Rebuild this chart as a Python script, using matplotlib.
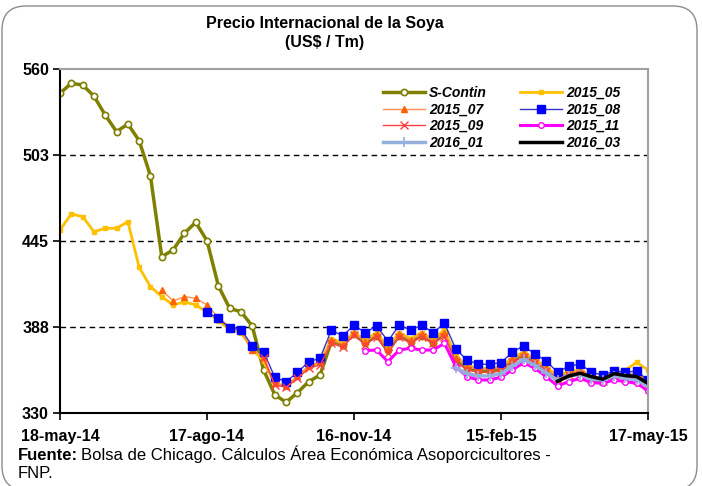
import matplotlib
matplotlib.use('Agg')
import matplotlib.pyplot as plt
from matplotlib.patches import FancyBboxPatch
from matplotlib.transforms import IdentityTransform
import numpy as np
import pandas as pd

# semanas desde 18-may-14 (53 cierres semanales)
weeks = pd.date_range('2014-05-18', periods=53, freq='7D')
N = None

s_contin = [544.0, 550.6, 549.5, 542.1, 529.4, 518.3, 523.4, 512.3, 488.7, 434.7,
            439.2, 450.4, 457.7, 445.4, 415.3, 400.2, 397.9, 388.4, 359.0, 342.3,
            337.4, 343.8, 351.2, 355.6, 378.0, 376.0, 383.0, 377.0, 382.0, 372.0,
            382.0, 378.0, 382.0, 377.0, 384.0, 366.0, 360.0, 358.0, 358.0, 359.0,
            365.0, 369.0, 364.0, 359.0, 353.0, 356.0, 357.0, 353.0, 351.0, 354.0,
            355.0, 355.0, 351.0]
c2015_05 = [452.6, 463.3, 461.5, 451.4, 453.7, 453.7, 458.1, 427.6, 414.7, 408.0,
            402.4, 404.6, 402.4, 397.7, 392.0, 386.0, 384.0, 373.0, 365.0, 350.0,
            348.0, 354.0, 361.0, 363.5, 380.0, 377.0, 384.0, 379.0, 384.0, 374.0,
            384.0, 380.0, 384.0, 379.0, 386.0, 368.0, 362.0, 360.0, 360.0, 361.0,
            367.0, 371.0, 366.0, 361.0, 355.0, 358.0, 359.0, 355.0, 353.0, 357.0,
            359.0, 364.0, 359.0]
c2015_07 = [N] * 9 + [
            412.4, 405.1, 408.0, 406.9, 402.4, 394.0, 388.0, 385.0, 372.0, 368.0,
            350.0, 348.5, 355.0, 362.0, 364.0, 379.0, 376.0, 384.0, 378.0, 383.0,
            373.0, 383.0, 379.0, 383.0, 378.0, 384.0, 367.0, 361.0, 359.5, 359.5,
            360.5, 366.0, 370.0, 365.0, 360.0, 354.0, 357.0, 358.0, 354.0, 352.0,
            355.0, 356.0, 357.0, 352.0]
c2015_08 = [N] * 13 + [
            397.5, 393.5, 387.0, 386.0, 375.2, 371.2, 354.1, 351.1, 357.4, 364.5,
            366.8, 385.7, 381.7, 388.9, 383.9, 388.4, 378.3, 388.9, 385.7, 388.9,
            383.9, 390.2, 373.0, 365.6, 362.8, 362.8, 363.8, 370.8, 375.2, 369.5,
            365.0, 357.4, 361.6, 362.8, 357.6, 355.4, 358.3, 357.3, 358.4, 352.0]
c2015_09 = [N] * 18 + [
            366.8, 348.9, 347.4, 353.4, 360.1, 362.3, 376.8, 374.1, 382.4, 375.7,
            381.2, 370.1, 381.2, 376.8, 381.2, 376.8, 381.2, 364.5, 359.0, 357.5,
            357.5, 358.5, 364.0, 367.8, 363.5, 358.5, 352.5, 355.5, 356.5, 353.0,
            351.5, 354.0, 353.0, 352.5, 348.5]
c2015_11 = [N] * 27 + [
            371.9, 372.3, 364.5, 372.3, 373.5, 372.3, 372.3, 376.8, 361.2, 354.5,
            352.3, 352.3, 354.1, 359.0, 363.8, 360.1, 354.5, 348.3, 351.2, 353.4,
            350.5, 350.1, 352.3, 351.2, 350.1, 345.1]
c2016_01 = [N] * 35 + [
            360.5, 356.5, 355.0, 355.0, 356.5, 361.5, 366.0, 362.0, 357.0, 352.0,
            355.0, 355.8, 352.8, 352.3, 355.0, 353.4, 352.3, 348.3]
c2016_03 = [N] * 44 + [
            351.4, 355.0, 356.8, 354.5, 352.8, 356.5, 355.2, 354.5, 350.0]

y_ticks = np.linspace(330, 560, 5)
y_labels = ['330', '388', '445', '503', '560']
x_tick_dates = pd.to_datetime(['2014-05-18', '2014-08-17', '2014-11-16',
                               '2015-02-15', '2015-05-17'])
x_labels = ['18-may-14', '17-ago-14', '16-nov-14', '15-feb-15', '17-may-15']

plt.rcParams['font.family'] = ['Liberation Sans', 'DejaVu Sans']


def arr(v):
    return np.array([np.nan if x is None else x for x in v], dtype=float)


fig = plt.figure(figsize=(7.02, 4.86), dpi=100)
ax = fig.add_axes([60 / 702, 1 - 413.3 / 486, 588 / 702, 344 / 486])

l_sc, = ax.plot(weeks, arr(s_contin), color='#808000', lw=2.5, marker='o',
                ms=4.5, mfc='white', mec='#808000', mew=1.2, label='S-Contin')
l_05, = ax.plot(weeks, arr(c2015_05), color='#FFC000', lw=2, marker='s',
                ms=3.5, label='2015_05')
l_07, = ax.plot(weeks, arr(c2015_07), color='#FF9050', lw=1, marker='^',
                ms=4, mfc='#FF6000', mec='#FF6000', label='2015_07')
l_08, = ax.plot(weeks, arr(c2015_08), color='#3333CC', lw=1, marker='s',
                ms=5.5, mfc='#0000FF', mec='#0000FF', label='2015_08')
l_09, = ax.plot(weeks, arr(c2015_09), color='#FF4040', lw=1, marker='x',
                ms=6, mew=1, label='2015_09')
l_11, = ax.plot(weeks, arr(c2015_11), color='#FF00FF', lw=2.2, marker='o',
                ms=4, mfc='white', mec='#FF00FF', label='2015_11')
l_01, = ax.plot(weeks, arr(c2016_01), color='#95B0DC', lw=2.5, marker='+',
                ms=7, mew=1.2, label='2016_01')
l_03, = ax.plot(weeks, arr(c2016_03), color='black', lw=2.5, label='2016_03')

ax.set_xlim(x_tick_dates[0], x_tick_dates[-1])
ax.set_ylim(330, 560)
ax.set_yticks(y_ticks)
ax.set_yticklabels(y_labels)
ax.set_xticks(x_tick_dates)
ax.set_xticklabels(x_labels)
ax.tick_params(axis='both', direction='out', length=5, width=1.2,
               labelsize=11.5)
ax.tick_params(axis='x', pad=6)
ax.tick_params(axis='y', pad=3)
for lab in ax.get_xticklabels() + ax.get_yticklabels():
    lab.set_fontweight('bold')

for v in y_ticks[1:-1]:
    ax.axhline(v, color='black', lw=1, ls=(0, (4, 3)), zorder=0.5)

for side in ['left', 'bottom']:
    ax.spines[side].set_color('black')
    ax.spines[side].set_linewidth(1.5)
for side in ['top', 'right']:
    ax.spines[side].set_color('#A0A0A0')
    ax.spines[side].set_linewidth(1.5)

handles = [l_sc, l_07, l_09, l_01, l_05, l_08, l_11, l_03]
ax.legend(handles=handles, ncol=2, loc='upper left',
          bbox_to_anchor=(376 / 702, 1 - 79 / 486), bbox_transform=fig.transFigure,
          frameon=False, borderpad=0, handlelength=3.0, handletextpad=0.3,
          columnspacing=2.4, labelspacing=0.18,
          prop={'size': 10, 'weight': 'bold', 'style': 'italic'})

fig.text(325 / 702, 1 - 33 / 486, 'Precio Internacional de la Soya\n(US$ / Tm)',
         ha='center', va='center', fontsize=11.5, fontweight='bold',
         linespacing=1.35)

# pie de fuente: "Fuente:" en negrita y el resto en la misma línea base
foot_y = 1 - 460 / 486
t = fig.text(18 / 702, foot_y, 'Fuente:', fontsize=12,
             fontweight='bold', va='baseline')
fig.canvas.draw()
bb = t.get_window_extent()
fig.text(bb.x1 / fig.bbox.width + 3 / 702, foot_y,
         'Bolsa de Chicago. Cálculos Área Económica Asoporcicultores -',
         fontsize=12, va='baseline')
fig.text(18 / 702, 1 - 478 / 486, 'FNP.', fontsize=12, va='baseline')

border = FancyBboxPatch((2, -4), 695, 484, boxstyle='round,pad=0,rounding_size=24',
                        transform=IdentityTransform(), fill=False,
                        edgecolor='#8C8C8C', lw=1)
fig.add_artist(border)

fig.savefig('out.png', dpi=100)
